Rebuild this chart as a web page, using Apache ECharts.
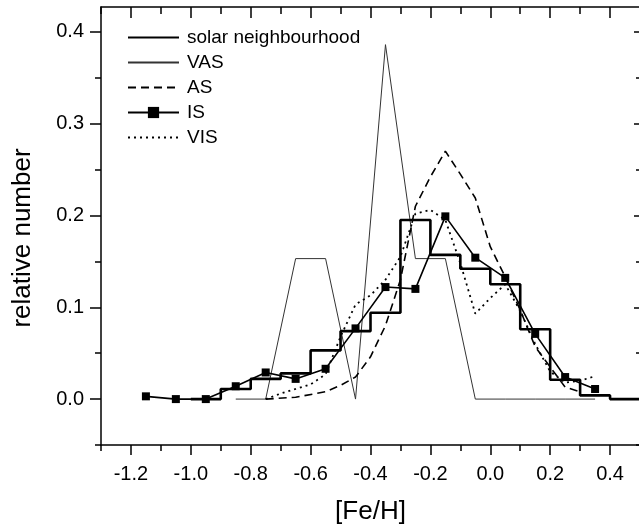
<!DOCTYPE html>
<html>
<head>
<meta charset="utf-8">
<script src="https://cdn.jsdelivr.net/npm/echarts@6/dist/echarts.min.js"></script>
<style>
  html, body { margin: 0; padding: 0; background: #fff; }
  #chart { width: 639px; height: 527px; }
</style>
</head>
<body>
<div id="chart"></div>
<script>
// solar neighbourhood histogram: bin left edges + last right edge
const solarEdges = [-1.0, -0.9, -0.8, -0.7, -0.6, -0.5, -0.4, -0.3, -0.2, -0.1, 0.0, 0.1, 0.2, 0.3, 0.4, 0.5]
const solarValues = [0, 0.011, 0.022, 0.028, 0.053, 0.074, 0.094, 0.195, 0.157, 0.142, 0.125, 0.076, 0.021, 0.004, 0]

// VAS
const vasX = [-0.85, -0.75, -0.65, -0.55, -0.45, -0.35, -0.25, -0.15, -0.05, 0.05, 0.15, 0.25, 0.35]
const vasY = [0, 0, 0.153, 0.153, 0, 0.386, 0.153, 0.153, 0, 0, 0, 0, 0]

// AS
const asX = [-0.75, -0.65, -0.55, -0.5, -0.45, -0.4, -0.35, -0.3, -0.25, -0.2, -0.15, -0.1, -0.05, 0.0, 0.05, 0.1, 0.15, 0.2, 0.25, 0.3]
const asY = [0, 0.002, 0.008, 0.015, 0.024, 0.046, 0.08, 0.13, 0.21, 0.242, 0.27, 0.245, 0.219, 0.166, 0.133, 0.097, 0.057, 0.035, 0.013, 0.008]

// IS
const isX = [-1.15, -1.05, -0.95, -0.85, -0.75, -0.65, -0.55, -0.45, -0.35, -0.25, -0.15, -0.05, 0.05, 0.15, 0.25, 0.35]
const isY = [0.003, 0, 0, 0.014, 0.029, 0.022, 0.033, 0.077, 0.122, 0.12, 0.199, 0.154, 0.132, 0.071, 0.024, 0.011]

// VIS
const visX = [-0.75, -0.7, -0.65, -0.6, -0.55, -0.5, -0.45, -0.4, -0.35, -0.3, -0.25, -0.2, -0.15, -0.1, -0.05, 0.0, 0.05, 0.1, 0.15, 0.2, 0.25, 0.3, 0.35]
const visY = [0, 0.006, 0.011, 0.016, 0.027, 0.068, 0.103, 0.113, 0.13, 0.155, 0.202, 0.206, 0.195, 0.148, 0.093, 0.11, 0.125, 0.096, 0.06, 0.03, 0.018, 0.02, 0.025]

// ticks
const xMajor = [-1.2, -1.0, -0.8, -0.6, -0.4, -0.2, 0.0, 0.2, 0.4]
const xMinor = [-1.3, -1.1, -0.9, -0.7, -0.5, -0.3, -0.1, 0.1, 0.3, 0.5]
const yMajor = [0.0, 0.1, 0.2, 0.3, 0.4]
const yMinor = [-0.05, 0.05, 0.15, 0.25, 0.35]

const FONT = "'Liberation Sans', Arial, Helvetica, sans-serif"
const NOFILL = 'rgba(0,0,0,0)'

function pairs(xs, ys) {
    return xs.map((x, i) => [x, ys[i]])
}

// step 'end' needs a closing point at the last right edge
const solarData = solarValues.map((v, i) => [solarEdges[i], v])
solarData.push([solarEdges[solarEdges.length - 1], solarValues[solarValues.length - 1]])

function axisLine(show) {
    return { show: show, onZero: false, lineStyle: { color: '#000', width: 1.5 } }
}

function xAxisDef(pos, ticks, len, inside, extra) {
    return Object.assign({
        type: 'value', position: pos, min: -1.3, max: 0.5,
        axisLine: axisLine(true),
        axisTick: { show: true, customValues: ticks, length: len, inside: inside, lineStyle: { color: '#000', width: 1.5 } },
        axisLabel: { show: false },
        splitLine: { show: false }
    }, extra || {})
}

function yAxisDef(pos, ticks, len, inside, extra) {
    return Object.assign({
        type: 'value', position: pos, min: -0.05, max: 0.427,
        axisLine: axisLine(true),
        axisTick: { show: true, customValues: ticks, length: len, inside: inside, lineStyle: { color: '#000', width: 1.5 } },
        axisLabel: { show: false },
        splitLine: { show: false }
    }, extra || {})
}

const chart = echarts.init(document.getElementById('chart'), null, { renderer: 'canvas' })

chart.setOption({
    backgroundColor: '#fff',
    animation: false,
    textStyle: { fontFamily: FONT },
    // fixed plot box, don't let v6 shrink it to fit the labels
    grid: { left: 101, right: -1, top: 7, bottom: 82, containLabel: false, outerBoundsMode: 'none' },
    legend: {
        orient: 'vertical',
        left: 122,
        top: 23,
        itemWidth: 51,
        itemHeight: 14,
        itemGap: 6,
        textStyle: { fontFamily: FONT, fontSize: 19, color: '#000', padding: [0, 0, 0, 3] },
        data: ['solar neighbourhood', 'VAS', 'AS', 'IS', 'VIS']
    },
    xAxis: [
        xAxisDef('bottom', xMajor, 10, false, {
            name: '[Fe/H]',
            nameLocation: 'middle',
            nameGap: 54,
            nameTextStyle: { fontFamily: FONT, fontSize: 26, color: '#000' },
            axisLabel: {
                show: true, customValues: xMajor, margin: 19,
                fontFamily: FONT, fontSize: 20, color: '#000',
                formatter: v => v.toFixed(1)
            }
        }),
        xAxisDef('bottom', xMinor, 6, false, { axisLine: axisLine(false) }),
        xAxisDef('top', xMajor, 11, true),
        xAxisDef('top', xMinor, 7, true, { axisLine: axisLine(false) })
    ],
    yAxis: [
        yAxisDef('left', yMajor, 11, false, {
            axisLabel: {
                show: true, customValues: yMajor, margin: 17,
                fontFamily: FONT, fontSize: 20, color: '#000',
                formatter: v => v.toFixed(1)
            }
        }),
        yAxisDef('left', yMinor, 6, false, { axisLine: axisLine(false) }),
        yAxisDef('right', yMajor, 6, true),
        yAxisDef('right', yMinor, 4, true, { axisLine: axisLine(false) })
    ],
    graphic: [{
        type: 'text',
        x: 23,
        y: 238,
        rotation: Math.PI / 2,
        style: {
            text: 'relative number',
            font: "26px 'Liberation Sans', Arial, sans-serif",
            fill: '#000',
            textAlign: 'center',
            textVerticalAlign: 'middle'
        }
    }],
    series: [
        {
            // invisible symbol so the legend shows only the line
            name: 'solar neighbourhood', type: 'line', step: 'end',
            data: solarData, symbol: 'circle', showSymbol: false,
            lineStyle: { color: '#000', width: 2.6 }, itemStyle: { color: NOFILL }, z: 3
        },
        {
            name: 'VAS', type: 'line',
            data: pairs(vasX, vasY), symbol: 'circle', showSymbol: false,
            lineStyle: { color: '#333', width: 1 }, itemStyle: { color: NOFILL }, z: 2
        },
        {
            name: 'AS', type: 'line',
            data: pairs(asX, asY), symbol: 'circle', showSymbol: false,
            lineStyle: { color: '#000', width: 1.6, type: [8, 5] }, itemStyle: { color: NOFILL }, z: 2
        },
        {
            name: 'IS', type: 'line',
            data: pairs(isX, isY), symbol: 'rect', symbolSize: 8,
            lineStyle: { color: '#000', width: 1.6 }, itemStyle: { color: '#000' }, z: 4
        },
        {
            name: 'VIS', type: 'line',
            data: pairs(visX, visY), symbol: 'circle', showSymbol: false,
            lineStyle: { color: '#000', width: 1.8, type: [2, 4] }, itemStyle: { color: NOFILL }, z: 2
        }
    ]
})
</script>
</body>
</html>
